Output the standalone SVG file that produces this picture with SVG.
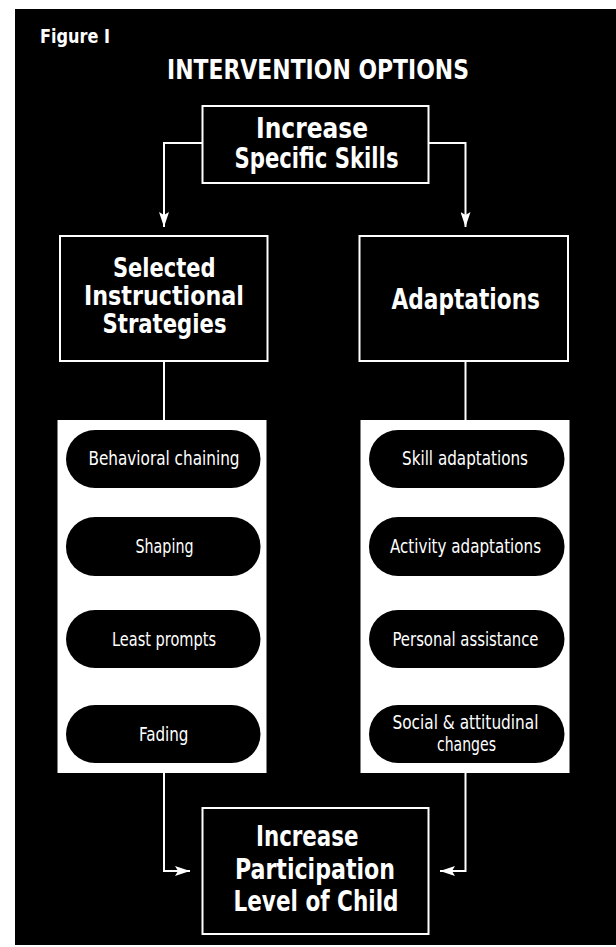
<svg xmlns="http://www.w3.org/2000/svg" width="616" height="947" viewBox="0 0 616 947">
  <defs>
    <marker id="arrow" viewBox="0 0 15 10" refX="15" refY="5" markerWidth="15" markerHeight="10" markerUnits="userSpaceOnUse" orient="auto">
      <path d="M0,0 L15,5 L0,10 L3,5 Z" fill="#fff"/>
    </marker>
    <style>
      .box { fill: #000; stroke: #fff; stroke-width: 2; }
      .panel { fill: #fff; stroke: none; }
      .pill { fill: #000; stroke: none; }
      .head { font-family: "DejaVu Sans Condensed", "Liberation Sans", sans-serif; font-weight: bold; fill: #fff; font-size: 28px; }
      .tight { font-size: 26px; }
      .item { font-family: "DejaVu Sans Condensed", "Liberation Sans", sans-serif; font-weight: normal; fill: #fff; font-size: 20px; }
      .small { font-size: 19px; }
      .wire { fill: none; stroke: #fff; stroke-width: 2; }
    </style>
  </defs>

  <!-- page and dark figure panel -->
  <rect x="0" y="0" width="616" height="947" fill="#fff"/>
  <rect x="15" y="9" width="601" height="936" fill="#000"/>

  <g id="caption">
    <text class="head" x="40" y="43" style="font-size:20px" textLength="70" lengthAdjust="spacingAndGlyphs">Figure I</text>
    <text class="head" x="167" y="79" style="font-size:27px" textLength="302" lengthAdjust="spacingAndGlyphs">INTERVENTION OPTIONS</text>
  </g>

  <!-- connectors -->
  <g id="connectors">
    <polyline class="wire" points="202.5,143 164,143 164,227" marker-end="url(#arrow)"/>
    <polyline class="wire" points="428.5,143 465.5,143 465.5,227" marker-end="url(#arrow)"/>
    <line class="wire" x1="164" y1="361" x2="164" y2="420"/>
    <line class="wire" x1="465.5" y1="361" x2="465.5" y2="420"/>
    <polyline class="wire" points="164,773 164,871 190,871" marker-end="url(#arrow)"/>
    <polyline class="wire" points="465.5,773 465.5,871 440,871" marker-end="url(#arrow)"/>
  </g>

  <g id="increase-skills">
    <rect class="box" x="202.5" y="106" width="226" height="77"/>
    <text class="head" x="256" y="138" textLength="112" lengthAdjust="spacingAndGlyphs">Increase</text>
    <text class="head" x="234.5" y="168" textLength="164" lengthAdjust="spacingAndGlyphs">Specific Skills</text>
  </g>

  <g id="instructional-strategies">
    <rect class="box" x="60" y="236" width="207.5" height="125"/>
    <text class="head tight" x="113" y="277" textLength="102.5" lengthAdjust="spacingAndGlyphs">Selected</text>
    <text class="head tight" x="84" y="305" textLength="160" lengthAdjust="spacingAndGlyphs">Instructional</text>
    <text class="head tight" x="102.5" y="333" textLength="124" lengthAdjust="spacingAndGlyphs">Strategies</text>
  </g>

  <g id="adaptations">
    <rect class="box" x="359.5" y="236" width="208.5" height="125"/>
    <text class="head" x="391.5" y="309" textLength="148.5" lengthAdjust="spacingAndGlyphs">Adaptations</text>
  </g>

  <g id="strategy-list">
    <rect class="panel" x="57.5" y="420" width="209" height="353"/>
    <rect class="pill" x="66" y="430" width="194.5" height="58" rx="29"/>
    <text class="item" x="88.5" y="465" textLength="151" lengthAdjust="spacingAndGlyphs">Behavioral chaining</text>
    <rect class="pill" x="66" y="517" width="194.5" height="59" rx="29"/>
    <text class="item" x="135.5" y="553" textLength="58" lengthAdjust="spacingAndGlyphs">Shaping</text>
    <rect class="pill" x="66" y="610" width="194.5" height="58" rx="29"/>
    <text class="item" x="112" y="646" textLength="104" lengthAdjust="spacingAndGlyphs">Least prompts</text>
    <rect class="pill" x="66" y="705" width="194.5" height="58" rx="29"/>
    <text class="item" x="139" y="741" textLength="49.5" lengthAdjust="spacingAndGlyphs">Fading</text>
  </g>

  <g id="adaptation-list">
    <rect class="panel" x="360.5" y="420" width="209" height="353"/>
    <rect class="pill" x="369" y="430" width="195.5" height="58" rx="29"/>
    <text class="item" x="402" y="465" textLength="126" lengthAdjust="spacingAndGlyphs">Skill adaptations</text>
    <rect class="pill" x="369" y="517" width="195.5" height="59" rx="29"/>
    <text class="item" x="390" y="553" textLength="151" lengthAdjust="spacingAndGlyphs">Activity adaptations</text>
    <rect class="pill" x="369" y="610" width="195.5" height="58" rx="29"/>
    <text class="item" x="392.5" y="646" textLength="146" lengthAdjust="spacingAndGlyphs">Personal assistance</text>
    <rect class="pill" x="369" y="705" width="195.5" height="58" rx="29"/>
    <text class="item small" x="392.5" y="729" textLength="146" lengthAdjust="spacingAndGlyphs">Social &amp; attitudinal</text>
    <text class="item small" x="437" y="751" textLength="59" lengthAdjust="spacingAndGlyphs">changes</text>
  </g>

  <g id="increase-participation">
    <rect class="box" x="202.5" y="808" width="226" height="126"/>
    <text class="head" x="256" y="846" textLength="102.5" lengthAdjust="spacingAndGlyphs">Increase</text>
    <text class="head" x="235" y="879" textLength="160" lengthAdjust="spacingAndGlyphs">Participation</text>
    <text class="head" x="233.5" y="911" textLength="165" lengthAdjust="spacingAndGlyphs">Level of Child</text>
  </g>
</svg>
